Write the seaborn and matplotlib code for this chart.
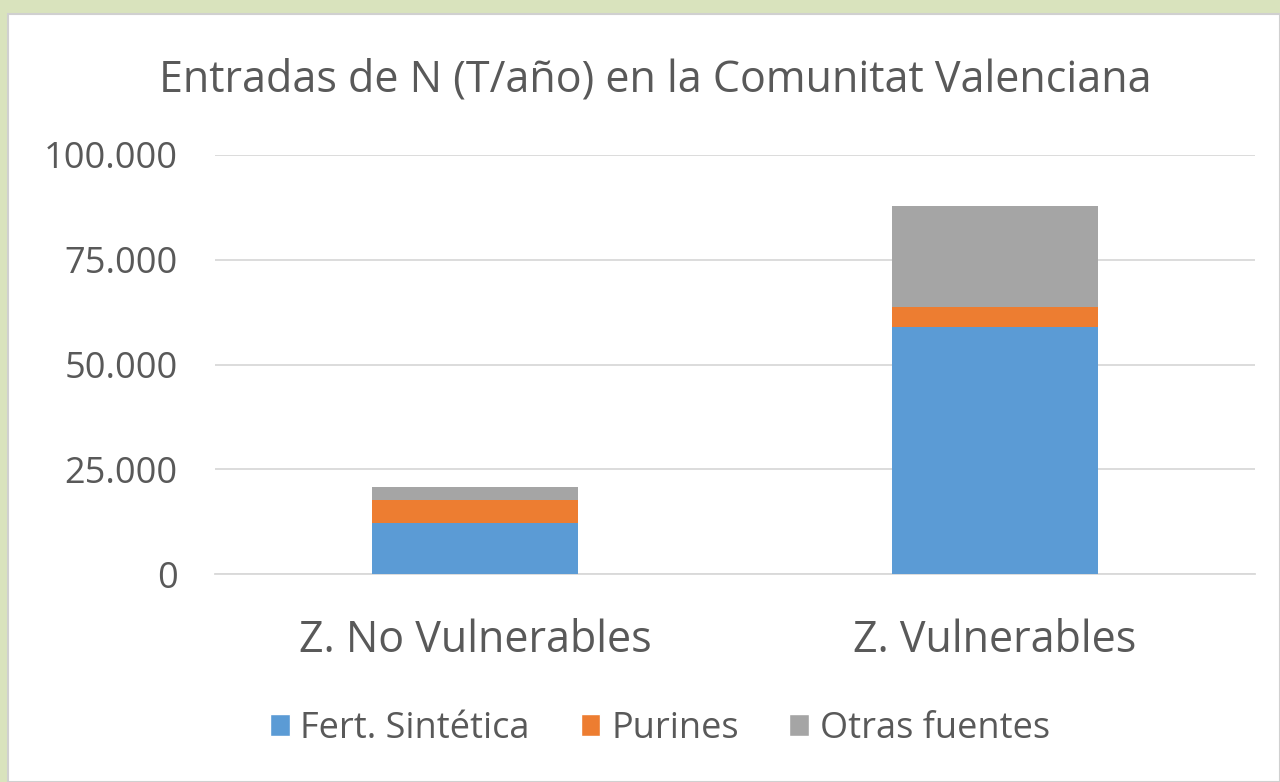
import numpy as np
import pandas as pd
import matplotlib
matplotlib.use("Agg")
import matplotlib.pyplot as plt
import seaborn as sns
from matplotlib.patches import Rectangle

# data (T/año)
zonas = ["Z. No Vulnerables", "Z. Vulnerables"]
fert_sintetica = [12200, 58900]
purines = [5500, 4900]
otras_fuentes = [3000, 24100]
series = ["Fert. Sintética", "Purines", "Otras fuentes"]
colores = ["#5b9bd5", "#ed7d31", "#a5a5a5"]
yticks = [0, 25000, 50000, 75000, 100000]

sns.set_theme(style="white")
plt.rcParams["font.family"] = ["Open Sans", "DejaVu Sans"]
text_col = "#595959"

fig = plt.figure(figsize=(12.8, 7.82), dpi=100)
fig.patch.set_facecolor("#d9e3bd")
# white chart area
fig.patches.append(Rectangle((8 / 1280, 0), 1 - 8 / 1280, 1 - 14 / 782,
                             transform=fig.transFigure, facecolor="white",
                             edgecolor="#d0d0d0", lw=1.5, zorder=-1))

ax = fig.add_axes([215 / 1280, 1 - 574 / 782, 1040 / 1280, 419 / 782])
ax.set_facecolor("white")

df = pd.DataFrame({"zona": zonas, "fert": fert_sintetica,
                   "pur": purines, "otras": otras_fuentes})
df["c1"] = df["fert"]
df["c2"] = df["fert"] + df["pur"]
df["c3"] = df["c2"] + df["otras"]

# stacked bars: draw totals first, then overlay lower segments
for col, color in zip(["c3", "c2", "c1"], colores[::-1]):
    sns.barplot(data=df, x="zona", y=col, color=color, width=0.395,
                saturation=1, linewidth=0, ax=ax, zorder=3)

ax.set_ylim(0, 100000)
ax.set_xlim(-0.5, 1.5)
ax.set_yticks(yticks)
ax.set_yticklabels([f"{v:,}".replace(",", ".") for v in yticks])
ax.yaxis.grid(True, color="#d9d9d9", lw=1.3, zorder=0)
ax.set_axisbelow(True)
for s in ["top", "right", "left"]:
    ax.spines[s].set_visible(False)
ax.spines["bottom"].set_color("#d9d9d9")
ax.spines["bottom"].set_linewidth(1.3)
ax.set_xlabel("")
ax.set_ylabel("")
ax.tick_params(axis="y", labelsize=26, colors=text_col, length=0, pad=27)
ax.tick_params(axis="x", labelsize=31, colors=text_col, length=0, pad=32)

fig.text(655 / 1280, 1 - 80 / 782, "Entradas de N (T/año) en la Comunitat Valenciana",
         ha="center", va="center", fontsize=31, color=text_col)

handles = [Rectangle((0, 0), 1, 1, facecolor=c) for c in colores]
leg = fig.legend(handles, series, loc="center", bbox_to_anchor=(660 / 1280, 1 - 729 / 782),
                 ncol=3, frameon=False, fontsize=26, handlelength=0.55, handleheight=0.55,
                 handletextpad=0.3, columnspacing=1.4)
for t in leg.get_texts():
    t.set_color(text_col)

fig.savefig("out.png", dpi=100, facecolor=fig.get_facecolor())
